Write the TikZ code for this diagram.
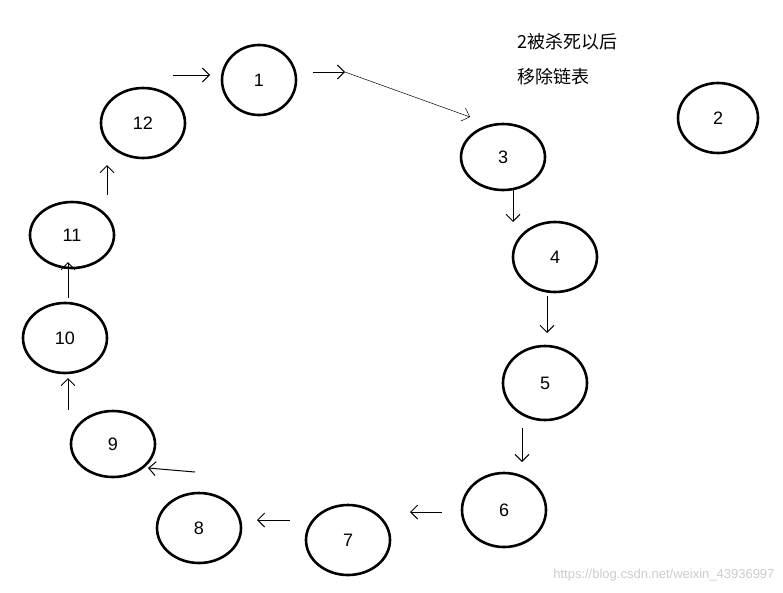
\documentclass[tikz,border=0pt]{standalone}
\usepackage{fontspec}
\setmainfont{Liberation Sans}
\newfontfamily\cjk{Noto Sans CJK SC}
\usetikzlibrary{arrows.meta,shapes.geometric}
\begin{document}
\begin{tikzpicture}[x=1pt,y=-1pt,
  nd/.style={ellipse,draw,line width=2.6pt,minimum width=84pt,minimum height=70pt,inner sep=0pt,font=\fontsize{18}{20}\selectfont},
  ar/.style={line width=1pt,-{Straight Barb[length=7pt,width=14pt]}}]
\useasboundingbox (0,0) rectangle (783,592);
\node[nd,minimum width=74pt] (n1) at (259,80) {1};
\node[nd] (n12) at (143,123) {12};
\node[nd,minimum height=66pt] (n11) at (72,235) {11};
\node[nd] (n10) at (65,338) {10};
\node[nd,minimum height=66pt] (n9) at (113,444) {9};
\node[nd] (n8) at (199,528) {8};
\node[nd] (n7) at (348,540) {7};
\node[nd,minimum height=74pt] (n6) at (504,510) {6};
\node[nd,minimum height=74pt] (n5) at (545,383) {5};
\node[nd] (n4) at (555,257) {4};
\node[nd,minimum height=66pt] (n3) at (503,157) {3};
\node[nd,minimum width=80pt] (n2) at (718,118) {2};
\node[anchor=west,font=\cjk\fontsize{18}{20}\selectfont] (t1) at (514,42) {2被杀死以后};
\node[anchor=west,font=\cjk\fontsize{18}{20}\selectfont] (t2) at (514,77) {移除链表};
\node[anchor=east,text=gray!40,font=\fontsize{13}{15}\selectfont] (wm) at (778,575) {https://blog.csdn.net/weixin\_43936997};
\coordinate (a1) at (173,75); \coordinate (b1) at (210,75);
\draw[ar] (a1) -- (b1);
\coordinate (a2) at (313,72); \coordinate (b2) at (345,72);
\draw[ar] (a2) -- (b2);
\coordinate (c2) at (470,117);
\draw[line width=0.5pt,-{Straight Barb[length=7pt,width=14pt]}] (b2) -- (c2);
\coordinate (a3) at (513,190); \coordinate (b3) at (513,222); \draw[ar] (a3) -- (b3);
\coordinate (a4) at (547,296); \coordinate (b4) at (547,333); \draw[ar] (a4) -- (b4);
\coordinate (a5) at (522,428); \coordinate (b5) at (522,462); \draw[ar] (a5) -- (b5);
\coordinate (a6) at (442,512); \coordinate (b6) at (410,512); \draw[ar] (a6) -- (b6);
\coordinate (a7) at (290,520); \coordinate (b7) at (257,520); \draw[ar] (a7) -- (b7);
\coordinate (a8) at (195,472); \coordinate (b8) at (148,468); \draw[ar] (a8) -- (b8);
\coordinate (a9) at (68,410); \coordinate (b9) at (68,378); \draw[ar] (a9) -- (b9);
\coordinate (a10) at (68,298); \coordinate (b10) at (68,262); \draw[ar] (a10) -- (b10);
\coordinate (a11) at (107,195); \coordinate (b11) at (107,165); \draw[ar] (a11) -- (b11);
\end{tikzpicture}
\end{document}
